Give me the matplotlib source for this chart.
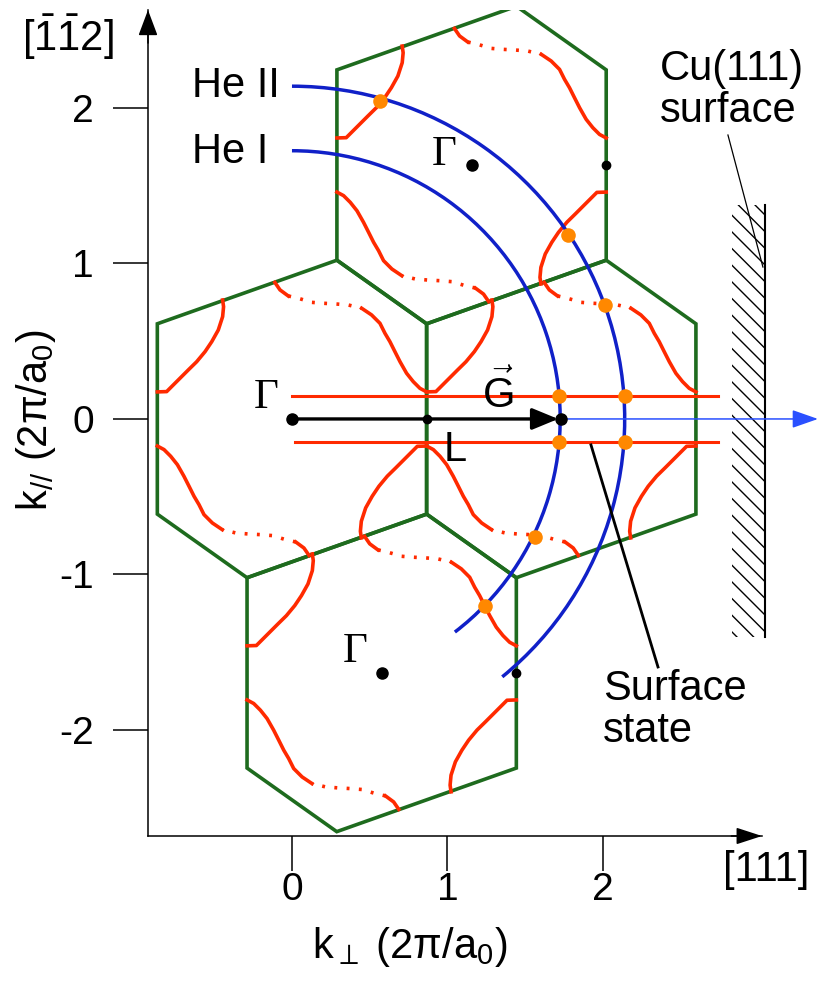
import numpy as np
import matplotlib
matplotlib.use('Agg')
import matplotlib.pyplot as plt
from matplotlib.patches import Polygon, Arc, Rectangle

plt.rcParams['font.family'] = ['Liberation Sans', 'DejaVu Sans']
plt.rcParams['mathtext.fontset'] = 'custom'
plt.rcParams['mathtext.rm'] = 'Liberation Sans'
plt.rcParams['mathtext.it'] = 'Liberation Sans:italic'
plt.rcParams['mathtext.bf'] = 'Liberation Sans:bold'
plt.rcParams['axes.unicode_minus'] = False

# units of 2pi/a0, x along [111], y along [-1-12]
gamma_x = [0.0, 1.155, 1.732, 0.577]
gamma_y = [0.0, 1.633, 0.0, -1.633]
l_x = [0.866, 2.021, 1.443]
l_y = [0.0, 1.633, -1.633]

# BZ section, vertices relative to Gamma
hex_x = [0.866, 0.866, -0.289, -0.866, -0.866, 0.289]
hex_y = [0.612, -0.612, -1.021, -0.612, 0.612, 1.021]

# Fermi contour pieces (relative to Gamma)
neck_x = [-0.866, -0.806, -0.774, -0.720, -0.667, -0.613, -0.559, -0.516, -0.474, -0.446, -0.440, -0.446]
neck_y = [0.174, 0.176, 0.208, 0.262, 0.315, 0.368, 0.433, 0.497, 0.572, 0.658, 0.722, 0.765]
belly_x = [-0.110, -0.077, -0.024, 0.041, 0.127, 0.201, 0.277, 0.362, 0.448, 0.512, 0.566, 0.598,
           0.630, 0.662, 0.695, 0.737, 0.780, 0.823, 0.866]
belly_y = [0.878, 0.830, 0.791, 0.776, 0.750, 0.744, 0.740, 0.733, 0.712, 0.669, 0.615, 0.551,
           0.497, 0.433, 0.368, 0.294, 0.240, 0.197, 0.174]
dot_from, dot_to = 2, 8

# photon energies: free-electron final state circles
he_labels = ['He I', 'He II']
he_radius = [1.725, 2.14]
he_theta0 = [-52.6, -50.8]
he_label_y = [1.717, 2.141]

# surface state projection
ss_y = [0.148, -0.148]
ss_x0 = [0.0, 0.02]
ss_x1 = 2.74

orange_x = [0.566, 1.775, 2.013, 1.563, 1.241, 1.72, 1.72, 2.145, 2.145]
orange_y = [2.045, 1.183, 0.733, -0.759, -1.203, 0.148, -0.148, 0.148, -0.148]

xticks = [0, 1, 2]
yticks = [-2, -1, 0, 1, 2]

red = '#ff2a00'
green = '#1e6b1e'
blue = '#1020c8'

fig = plt.figure(figsize=(8.19, 9.84), dpi=100)
ax = fig.add_axes([148/819, 148/984, 614/819, 826/984])
ax.set_xlim(-0.926, 3.023)
ax.set_ylim(-2.682, 2.630)

for gx, gy in zip(gamma_x, gamma_y):
    verts = np.column_stack([np.array(hex_x) + gx, np.array(hex_y) + gy])
    ax.add_patch(Polygon(verts, closed=True, fill=False, edgecolor=green, lw=2.6, zorder=2))
    for s in (1, -1):
        nx = s*np.array(neck_x) + gx
        ny = s*np.array(neck_y) + gy
        ax.plot(nx, ny, color=red, lw=2.6, zorder=3)
        bx = s*np.array(belly_x) + gx
        by = s*np.array(belly_y) + gy
        ax.plot(bx[:dot_from+1], by[:dot_from+1], color=red, lw=2.6, zorder=3)
        ax.plot(bx[dot_to:], by[dot_to:], color=red, lw=2.6, zorder=3)
        ax.plot(bx[dot_from:dot_to+1], by[dot_from:dot_to+1], color=red, lw=2.6,
                dashes=(0.8, 2.6), zorder=3)

for y, x0 in zip(ss_y, ss_x0):
    ax.plot([x0, ss_x1], [y, y], color=red, lw=2.2, zorder=3)

for r, t0, lab, ly in zip(he_radius, he_theta0, he_labels, he_label_y):
    ax.add_patch(Arc((0, 0), 2*r, 2*r, theta1=t0, theta2=90, color=blue, lw=2.5, zorder=4))
    ax.text(-0.643, ly, lab, fontsize=30, ha='left', va='center')

# G vector and outgoing beam
ax.annotate('', xy=(3.383, 0), xytext=(1.732, 0), annotation_clip=False,
            arrowprops=dict(arrowstyle='-|>,head_length=0.8,head_width=0.28', color='#2a50ff',
                            lw=1.1, mutation_scale=20, shrinkA=0, shrinkB=0), zorder=4)
ax.annotate('', xy=(1.712, 0), xytext=(0, 0),
            arrowprops=dict(arrowstyle='-|>,head_length=0.8,head_width=0.33', color='k',
                            lw=2.4, mutation_scale=20, shrinkA=0, shrinkB=0), zorder=5)

ax.plot(orange_x, orange_y, 'o', color='#ff8800', ms=10.5, mec='none', zorder=6)
ax.plot(gamma_x, gamma_y, 'o', color='k', ms=8, zorder=6)
ax.plot(l_x, l_y, 'o', color='k', ms=6, zorder=6)

serif = ['Liberation Serif', 'DejaVu Serif']
ax.text(-0.167, 0.135, 'Γ', fontsize=31, family=serif, ha='center', va='center')
ax.text(0.978, 1.698, 'Γ', fontsize=31, family=serif, ha='center', va='center')
ax.text(0.405, -1.498, 'Γ', fontsize=31, family=serif, ha='center', va='center')
ax.text(1.048, -0.199, 'L', fontsize=30, ha='center', va='center')
ax.text(1.325, 0.16, r'$\vec{\mathrm{G}}$', fontsize=30, ha='center', va='center')

# surface state pointer
ax.plot([1.923, 2.354], [-0.167, -1.595], color='k', lw=2.0, zorder=5)
ax.text(2.0, -1.87, 'Surface\nstate', fontsize=30, ha='left', va='center', linespacing=1.05)

# Cu(111) surface
ax.add_patch(Rectangle((2.83, -1.40), 0.21, 2.776, hatch='\\\\', fill=False, lw=0,
                       edgecolor='k', clip_on=False))
ax.plot([3.04, 3.04], [-1.40, 1.376], color='k', lw=1.5, clip_on=False)
ax.plot([2.804, 3.029], [1.826, 0.977], color='k', lw=0.9, clip_on=False)
ax.text(2.367, 2.115, 'Cu(111)\nsurface', fontsize=30, ha='left', va='center', linespacing=1.05)

# axes
for sp in ['top', 'right']:
    ax.spines[sp].set_visible(False)
for sp in ['left', 'bottom']:
    ax.spines[sp].set_linewidth(1.1)
ax.set_xticks(xticks)
ax.set_yticks(yticks)
ax.tick_params(direction='out', length=25, width=1.1, labelsize=28)
ax.tick_params(axis='y', pad=14)
ax.tick_params(axis='x', pad=1)
ax.annotate('', xy=(0, 1), xycoords='axes fraction', xytext=(0, 0.96),
            arrowprops=dict(arrowstyle='-|>,head_length=0.8,head_width=0.3', color='k',
                            lw=1.1, mutation_scale=20, shrinkA=0, shrinkB=0), annotation_clip=False)
ax.annotate('', xy=(1, 0), xycoords='axes fraction', xytext=(0.95, 0),
            arrowprops=dict(arrowstyle='-|>,head_length=0.8,head_width=0.26', color='k',
                            lw=1.1, mutation_scale=20, shrinkA=0, shrinkB=0), annotation_clip=False)

ax.set_xlabel('k$_{\\perp}$ (2π/a$_0$)', fontsize=30, va='center')
ax.xaxis.set_label_coords(0.4267, -0.134)
ax.set_ylabel('k$_{//}$ (2π/a$_0$)', fontsize=30, va='center')
ax.yaxis.set_label_coords(-0.182, 0.5036)
fig.text(766/819, 1 - 870/984, '[111]', fontsize=30, ha='center', va='center')
fig.text(68/819, 1 - 37/984, r'[$\mathrm{\bar{1}\bar{1}}$2]', fontsize=30, ha='center', va='center')

plt.savefig('out.png', dpi=100)
